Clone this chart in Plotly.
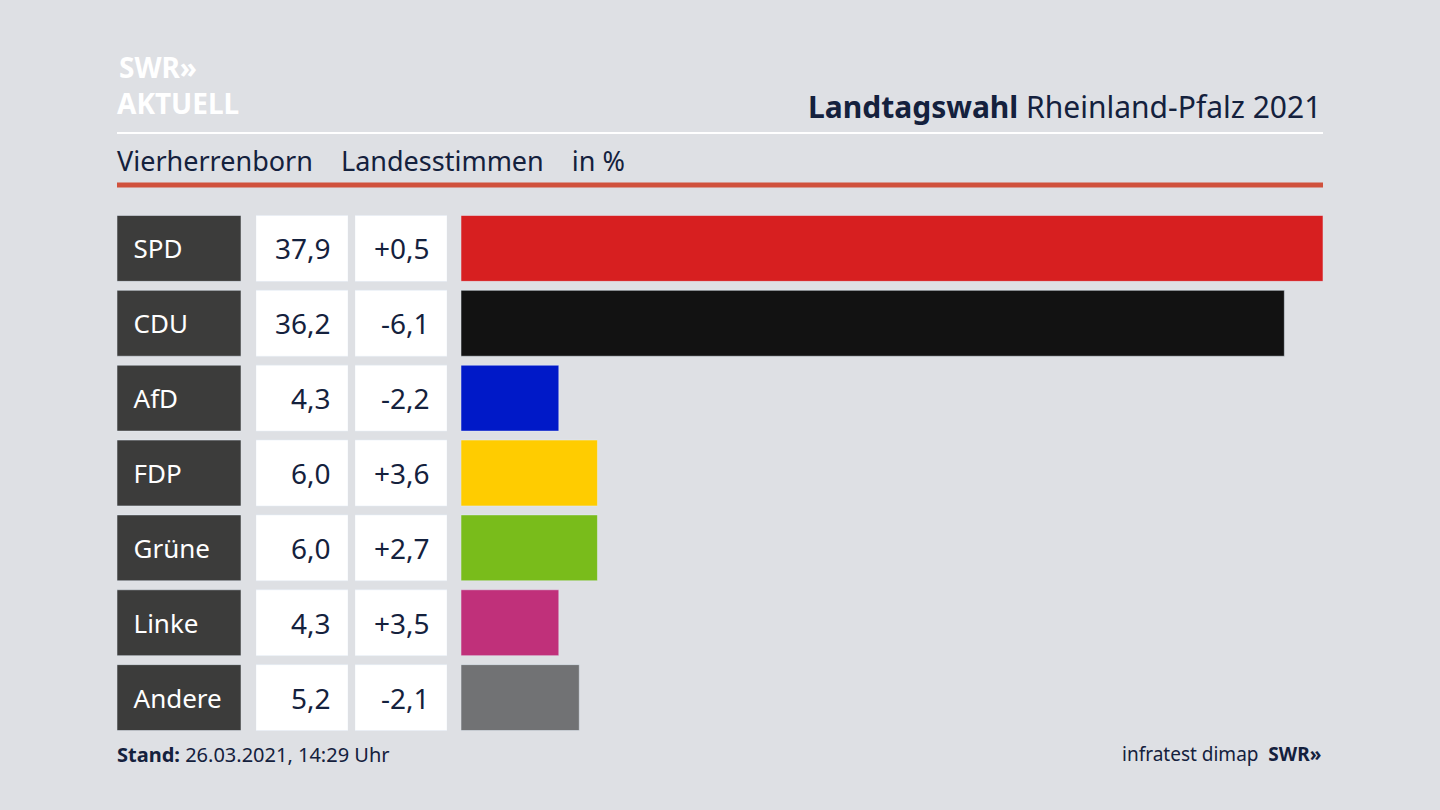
import plotly.graph_objects as go

parties = ["SPD", "CDU", "AfD", "FDP", "Grüne", "Linke", "Andere"]
shares = [37.9, 36.2, 4.3, 6.0, 6.0, 4.3, 5.2]
changes = ["+0,5", "-6,1", "-2,2", "+3,6", "+2,7", "+3,5", "-2,1"]
colors = ["#d71f20", "#121212", "#0019c8", "#ffcc00", "#79bc1b", "#c0307a", "#717274"]

W, H = 1440, 810
NAVY = "#14213d"
FONT = "Noto Sans"


def px(x):
    return x / W


def py(y):
    return 1 - y / H


fmt = [f"{v:.1f}".replace(".", ",") + "  " for v in shares]
chg = [c + "  " for c in changes]
names = ["  " + p for p in parties]
ones = [1] * len(parties)

fig = go.Figure()
fig.add_bar(y=parties, x=shares, orientation="h", marker_color=colors,
            xaxis="x", yaxis="y", hoverinfo="skip")
fig.add_bar(y=parties, x=ones, orientation="h", marker_color="#3c3c3b",
            text=names, textposition="inside", insidetextanchor="start",
            textfont=dict(color="white", size=26, family=FONT),
            xaxis="x2", yaxis="y", hoverinfo="skip")
fig.add_bar(y=parties, x=ones, orientation="h", marker_color="white",
            text=fmt, textposition="inside", insidetextanchor="end",
            textfont=dict(color=NAVY, size=28, family=FONT),
            xaxis="x3", yaxis="y", hoverinfo="skip")
fig.add_bar(y=parties, x=ones, orientation="h", marker_color="white",
            text=chg, textposition="inside", insidetextanchor="end",
            textfont=dict(color=NAVY, size=28, family=FONT),
            xaxis="x4", yaxis="y", hoverinfo="skip")

hidden = dict(visible=False, fixedrange=True)
fig.update_layout(
    width=W, height=H, margin=dict(l=0, r=0, t=0, b=0),
    paper_bgcolor="#dee0e4", plot_bgcolor="rgba(0,0,0,0)",
    showlegend=False, bargap=0.12, uniformtext=dict(mode="show", minsize=10),
    font=dict(family=FONT, color=NAVY),
    xaxis=dict(domain=[px(461), px(1323)], range=[0, 37.9], **hidden),
    xaxis2=dict(domain=[px(117), px(241)], range=[0, 1], **hidden),
    xaxis3=dict(domain=[px(256), px(348)], range=[0, 1], **hidden),
    xaxis4=dict(domain=[px(355), px(447)], range=[0, 1], **hidden),
    yaxis=dict(domain=[py(735), py(211)], autorange="reversed", **hidden),
)

fig.add_shape(type="line", xref="paper", yref="paper", x0=px(117), x1=px(1323),
              y0=py(133), y1=py(133), line=dict(color="white", width=2))
fig.add_shape(type="line", xref="paper", yref="paper", x0=px(117), x1=px(1323),
              y0=py(185), y1=py(185), line=dict(color="#d0513c", width=5))

ann = [
    dict(x=px(117), y=py(67), text="<b>SWR»</b>", size=28, color="white", anchor="left"),
    dict(x=px(115), y=py(103), text="<b>AKTUELL</b>", size=28, color="white", anchor="left"),
    dict(x=px(1323), y=py(106), text="<b>Landtagswahl</b> Rheinland-Pfalz 2021", size=30, color=NAVY, anchor="right"),
    dict(x=px(115), y=py(160), text="Vierherrenborn    Landesstimmen    in %", size=27, color=NAVY, anchor="left"),
    dict(x=px(115), y=py(754), text="<b>Stand:</b> 26.03.2021, 14:29 Uhr", size=20, color=NAVY, anchor="left"),
    dict(x=px(1323), y=py(754), text="infratest dimap  <b>SWR»</b>", size=19, color=NAVY, anchor="right"),
]
for a in ann:
    fig.add_annotation(x=a["x"], y=a["y"], xref="paper", yref="paper", text=a["text"],
                       showarrow=False, xanchor=a["anchor"], yanchor="middle",
                       font=dict(size=a["size"], color=a["color"], family=FONT))

fig.write_html("out.html", config={"displayModeBar": False},
               post_script="document.body.style.margin='0';")
